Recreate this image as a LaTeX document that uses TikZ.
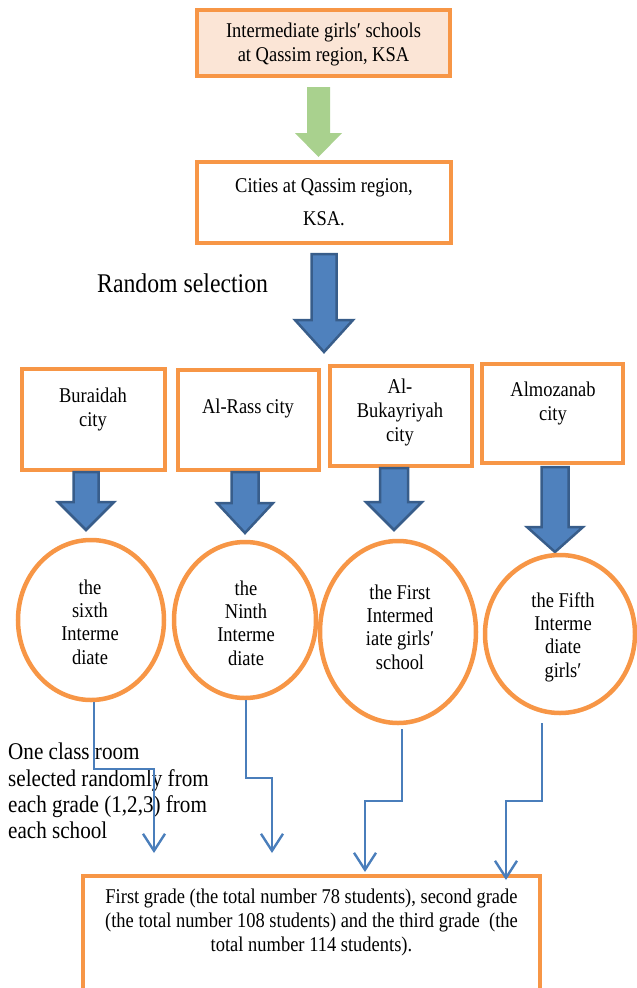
\documentclass[tikz,border=0pt]{standalone}
\usepackage{fontspec}
\setmainfont{Liberation Serif}[FakeStretch=0.88]
\usetikzlibrary{shapes.geometric,arrows.meta}
\definecolor{orng}{HTML}{F79646}
\definecolor{peach}{HTML}{FBE5D6}
\definecolor{grn}{HTML}{A9D18E}
\definecolor{blu}{HTML}{4F81BD}
\definecolor{bluedge}{HTML}{385D8A}
\definecolor{conncol}{HTML}{4A7EBB}
% #1 style, #2 cx, #3 top, #4 head start, #5 tip, #6 shaft half width, #7 head half width
\newcommand\blkarrow[7]{%
  \path[#1] ({#2-#6},#3) -- ({#2+#6},#3) -- ({#2+#6},#4) -- ({#2+#7},#4) -- (#2,#5)
    -- ({#2-#7},#4) -- ({#2-#6},#4) -- cycle;}
\begin{document}
\begin{tikzpicture}[x=1pt,y=-1pt,
  obox/.style={draw=orng, line width=4.5pt, rectangle, inner sep=0pt},
  oell/.style={draw=orng, line width=4.5pt, ellipse, inner sep=0pt},
  txt/.style={align=center, inner sep=0pt, font=\fontsize{21pt}{24pt}\selectfont},
  bigarrow/.style={fill=blu, draw=bluedge, line width=2.5pt, line join=miter},
  greenarrow/.style={fill=grn},
  conn/.style={draw=conncol, line width=2.4pt, -{Straight Barb[length=17pt,width=22pt]}}]
\useasboundingbox (0,0) rectangle (637,988);

% top boxes
\node[obox, fill=peach, minimum width=253pt, minimum height=66pt] (top) at (323.5,43) {};
\node[txt] (toptxt) at (323.5,44) {Intermediate girls′ schools\\at Qassim region, KSA};
\node[obox, fill=white, minimum width=254pt, minimum height=81pt] (cities) at (324,202.5) {};
\node[txt, font=\fontsize{21pt}{33pt}\selectfont] (citiestxt) at (324,202) {Cities at Qassim region,\\KSA.};

\blkarrow{greenarrow}{318.5}{87}{133}{157}{11.5}{23.5}
\blkarrow{bigarrow}{324}{254}{320}{352}{12.5}{29}

\node[anchor=base west, inner sep=0pt, font=\fontsize{27pt}{30pt}\selectfont] (rs) at (97,292) {Random selection};

% city boxes
\node[obox, minimum width=143pt, minimum height=101pt] (b1) at (93.5,419.5) {};
\node[obox, minimum width=141pt, minimum height=100pt] (b2) at (248.5,420) {};
\node[obox, minimum width=142pt, minimum height=100pt] (b3) at (401,416) {};
\node[obox, minimum width=141pt, minimum height=99pt] (b4) at (552.5,413.5) {};
\node[txt] (t1) at (93,409) {Buraidah\\city};
\node[txt] (t2) at (248,408) {Al-Rass city};
\node[txt] (t3) at (400,412) {Al-\\Bukayriyah\\city};
\node[txt] (t4) at (553,403) {Almozanab\\city};

\blkarrow{bigarrow}{86}{472}{502}{530}{12.5}{28}
\blkarrow{bigarrow}{245}{472}{503}{533}{13.5}{28}
\blkarrow{bigarrow}{394}{468}{502}{530}{14}{28}
\blkarrow{bigarrow}{555}{467}{527}{552}{13.5}{28}

% schools
\node[oell, minimum width=146pt, minimum height=160pt] (e1) at (91,620) {};
\node[oell, minimum width=142pt, minimum height=156pt] (e2) at (245,620) {};
\node[oell, minimum width=156pt, minimum height=182pt] (e3) at (398,632) {};
\node[oell, minimum width=150pt, minimum height=158pt] (e4) at (560,634) {};
\node[txt, font=\fontsize{21pt}{23.3pt}\selectfont] (s1) at (90,622) {the\\sixth\\Interme\\diate};
\node[txt, font=\fontsize{21pt}{23.3pt}\selectfont] (s2) at (246,623) {the\\Ninth\\Interme\\diate};
\node[txt, font=\fontsize{21pt}{23.3pt}\selectfont] (s3) at (400,627) {the First\\Intermed\\iate girls′\\school};
\node[txt, font=\fontsize{21pt}{23.3pt}\selectfont] (s4) at (563,637) {the Fifth\\Interme\\diate\\girls′};

% note
\node[anchor=west, align=left, inner sep=0pt, font=\fontsize{24pt}{26.3pt}\selectfont] (note) at (8,791)
  {One class room\\selected randomly from\\each grade (1,2,3) from\\each school};

% bottom box
\node[obox, fill=white, minimum width=457pt, minimum height=134pt] (res) at (311.5,943) {};
\node[txt] (restxt) at (311.5,922)
  {First grade (the total number 78 students), second grade\\(the total number 108 students) and the third grade\ \ (the\\total number 114 students).};

% connectors
\coordinate (a1) at (154,853);
\coordinate (a2) at (272,853);
\coordinate (a3) at (365,872);
\coordinate (a4) at (506,880);
\draw[conn] ([xshift=3pt]e1.south) -- ++(0,67) -| (a1);
\draw[conn] ([xshift=1pt]e2.south) -- ++(0,78) -| (a2);
\draw[conn] ([xshift=4pt,yshift=-4pt]e3.south) -- ++(0,72) -| (a3);
\draw[conn] ([xshift=-18pt,yshift=-8pt]e4.south) -- ++(0,78) -| (a4);
\end{tikzpicture}
\end{document}
